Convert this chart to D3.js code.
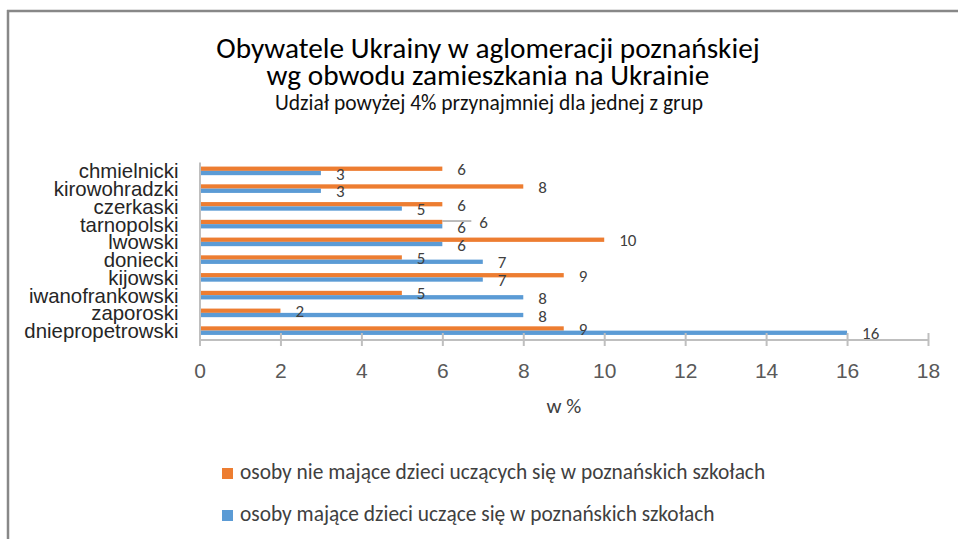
<!DOCTYPE html>
<html>
<head>
<meta charset="utf-8">
<script src="https://cdn.jsdelivr.net/npm/d3@7"></script>
<style>
  html, body { margin: 0; padding: 0; background: #fff; }
  svg { display: block; font-family: Carlito, Calibri, Lato, sans-serif; }
</style>
</head>
<body>
<svg id="chart" width="958" height="539"></svg>
<script>
// regions, top to bottom as shown
const regions = ['chmielnicki', 'kirowohradzki', 'czerkaski', 'tarnopolski', 'lwowski',
                 'doniecki', 'kijowski', 'iwanofrankowski', 'zaporoski', 'dniepropetrowski'];
// % of people without children in Poznań schools
const withoutKids = [6, 8, 6, 6, 10, 5, 9, 5, 2, 9];
// % of people with children in Poznań schools
const withKids = [3, 3, 5, 6, 6, 7, 7, 8, 8, 16];
const xTicks = [0, 2, 4, 6, 8, 10, 12, 14, 16, 18];
const seriesNames = ['osoby nie mające dzieci uczących się w poznańskich szkołach',
                     'osoby mające dzieci uczące się w poznańskich szkołach'];
const titleLines = ['Obywatele Ukrainy w aglomeracji poznańskiej', 'wg obwodu zamieszkania na Ukrainie'];
const subtitle = 'Udział powyżej 4% przynajmniej dla jednej z grup';

const colors = ['#ED7D31', '#5B9BD5'];
const series = [withoutKids, withKids];

const svg = d3.select('#chart');
const margin = { top: 162, right: 30, bottom: 199.5, left: 199.5 };
const width = 958, height = 539;

// frame (only the top and left edge are visible)
svg.append('line').attr('x1', 7).attr('x2', width).attr('y1', 11).attr('y2', 11)
  .attr('stroke', '#888').attr('stroke-width', 2.5);
svg.append('line').attr('x1', 8).attr('x2', 8).attr('y1', 10).attr('y2', height)
  .attr('stroke', '#888').attr('stroke-width', 2.5);

// titles
svg.append('g').selectAll('text').data(titleLines).join('text')
  .attr('x', 488).attr('y', (d, i) => 58 + i * 27)
  .attr('text-anchor', 'middle').attr('font-size', 29.3).attr('fill', '#000')
  .text(d => d);
svg.append('text').attr('x', 489).attr('y', 110)
  .attr('text-anchor', 'middle').attr('font-size', 21.5).attr('fill', '#111')
  .text(subtitle);

const x = d3.scaleLinear().domain([0, 18]).range([margin.left, 928]);
const y = d3.scaleBand().domain(regions).range([margin.top, height - margin.bottom]);
const half = 4.3;
const y1 = d3.scaleBand().domain([0, 1])
  .range([y.bandwidth() / 2 - half, y.bandwidth() / 2 + half]);

// bars
const groups = svg.append('g').selectAll('g').data(regions).join('g')
  .attr('transform', d => `translate(0,${y(d)})`);
groups.selectAll('rect')
  .data((d, i) => series.map((s, k) => ({ k, v: s[i] })))
  .join('rect')
  .attr('x', x(0))
  .attr('y', d => y1(d.k))
  .attr('width', d => x(d.v) - x(0))
  .attr('height', y1.bandwidth())
  .attr('fill', d => colors[d.k]);

// data labels (one orange label in tarnopolski was dragged out with a leader line)
const moved = { region: 'tarnopolski', k: 0, shift: 22 };
groups.selectAll('text.val')
  .data((d, i) => series.map((s, k) => ({ r: d, k, v: s[i] })))
  .join('text').attr('class', 'val')
  .attr('x', d => x(d.v) + 15 + (d.r === moved.region && d.k === moved.k ? moved.shift : 0))
  .attr('y', d => y1(d.k) + y1.bandwidth() / 2 + 6.5)
  .attr('font-size', 17).attr('fill', '#404040')
  .text(d => d.v);
const mi = regions.indexOf(moved.region);
svg.append('line')
  .attr('x1', x(series[moved.k][mi])).attr('x2', x(series[moved.k][mi]) + moved.shift + 7)
  .attr('y1', y(moved.region) + y1(moved.k) + 1.2).attr('y2', y(moved.region) + y1(moved.k) + 1.2)
  .attr('stroke', '#a6a6a6').attr('stroke-width', 1.5);

// category axis
const yAxis = svg.append('g').attr('transform', `translate(${margin.left},0)`)
  .call(d3.axisLeft(y).tickSize(0).tickPadding(21));
yAxis.select('.domain').attr('stroke', '#BFBFBF').attr('stroke-width', 2);
yAxis.selectAll('text').attr('font-size', 20.4).attr('fill', '#262626')
  .attr('dy', null).attr('y', 7.5);

// value axis
const xAxis = svg.append('g').attr('transform', `translate(0,${height - margin.bottom})`)
  .call(d3.axisBottom(x).tickValues(xTicks).tickSize(6.5).tickSizeOuter(0));
xAxis.select('.domain').attr('stroke', '#BFBFBF').attr('stroke-width', 2);
xAxis.selectAll('.tick line').attr('y1', -6.5).attr('y2', 6.5)
  .attr('stroke', '#BFBFBF').attr('stroke-width', 2);
xAxis.selectAll('.tick text').attr('dy', null).attr('y', 38.5)
  .attr('font-size', 21).attr('fill', '#595959');

svg.append('text').attr('x', 564).attr('y', 413).attr('text-anchor', 'middle')
  .attr('font-size', 21).attr('fill', '#404040').text('w %');

// legend
const legend = svg.append('g').selectAll('g').data(seriesNames).join('g')
  .attr('transform', (d, i) => `translate(222,${468 + i * 42})`);
legend.append('rect').attr('width', 11).attr('height', 11).attr('fill', (d, i) => colors[i]);
legend.append('text').attr('x', 18).attr('y', 11).attr('font-size', 21.4)
  .attr('fill', '#404040').text(d => d);
</script>
</body>
</html>
